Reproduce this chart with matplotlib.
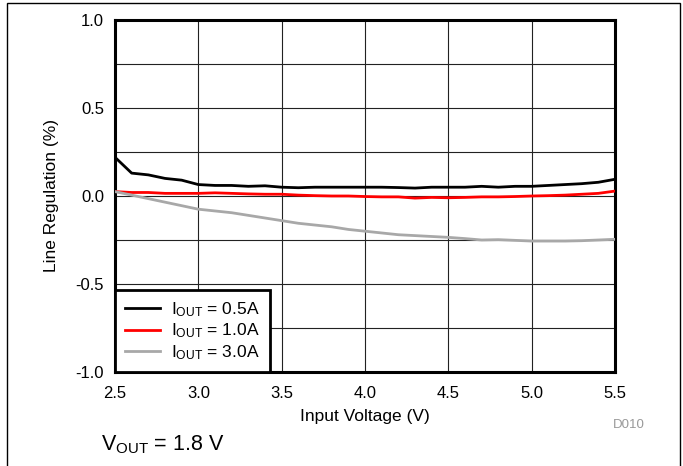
import matplotlib
matplotlib.use("Agg")
import matplotlib.pyplot as plt
from matplotlib.patches import Rectangle

plt.rcParams['font.family'] = ['Liberation Sans', 'DejaVu Sans']
plt.rcParams['mathtext.fontset'] = 'custom'
plt.rcParams['mathtext.rm'] = 'Liberation Sans'
plt.rcParams['mathtext.it'] = 'Liberation Sans'

vin = [2.5, 2.6, 2.7, 2.8, 2.9, 3.0, 3.1, 3.2, 3.3, 3.4, 3.5, 3.6, 3.7, 3.8, 3.9, 4.0,
       4.1, 4.2, 4.3, 4.4, 4.5, 4.6, 4.7, 4.8, 4.9, 5.0, 5.1, 5.2, 5.3, 5.4, 5.5]
reg_05a = [0.22, 0.13, 0.12, 0.10, 0.09, 0.065, 0.06, 0.06, 0.055, 0.058, 0.05, 0.047,
           0.05, 0.05, 0.05, 0.05, 0.05, 0.048, 0.045, 0.05, 0.05, 0.05, 0.055, 0.05,
           0.055, 0.055, 0.06, 0.065, 0.07, 0.078, 0.095]
reg_10a = [0.025, 0.02, 0.02, 0.015, 0.015, 0.015, 0.018, 0.015, 0.012, 0.01, 0.01, 0.005,
           0.002, 0.0, 0.0, -0.003, -0.005, -0.005, -0.012, -0.008, -0.01, -0.008, -0.005,
           -0.005, -0.003, 0.0, 0.002, 0.005, 0.01, 0.015, 0.028]
reg_30a = [0.025, 0.005, -0.015, -0.035, -0.055, -0.075, -0.085, -0.095, -0.11, -0.125,
           -0.14, -0.155, -0.165, -0.175, -0.19, -0.20, -0.21, -0.22, -0.225, -0.23,
           -0.235, -0.242, -0.25, -0.248, -0.252, -0.256, -0.256, -0.256, -0.254, -0.25,
           -0.246]
labels = [r'I$_{\mathrm{OUT}}$ = 0.5A', r'I$_{\mathrm{OUT}}$ = 1.0A', r'I$_{\mathrm{OUT}}$ = 3.0A']
colors = ['#000000', '#ff0000', '#a8a8a8']
xticks = [2.5, 3.0, 3.5, 4.0, 4.5, 5.0, 5.5]
yticks = [-1.0, -0.5, 0.0, 0.5, 1.0]
ygrid = [-0.75, -0.25, 0.25, 0.75]

fig = plt.figure(figsize=(6.83, 4.66), dpi=100)
ax = fig.add_axes([115/683, 94/466, 500/683, 352/466])

for y, c, lab in zip([reg_05a, reg_10a, reg_30a], colors, labels):
    ax.plot(vin, y, color=c, lw=2.0, label=lab, zorder=3)

ax.set_xlim(2.5, 5.5)
ax.set_ylim(-1.0, 1.0)
ax.set_xticks(xticks)
ax.set_xticklabels([f"{v:.1f}" for v in xticks])
ax.set_yticks(yticks)
ax.set_yticklabels([f"{v:.1f}" for v in yticks])
ax.set_yticks(ygrid, minor=True)
ax.tick_params(which='both', length=0, labelsize=12, pad=8)
ax.tick_params(axis='x', pad=10)
ax.grid(True, which='both', color='#222222', lw=0.8)
ax.set_axisbelow(True)
for s in ax.spines.values():
    s.set_linewidth(2.2)

ax.set_xlabel('Input Voltage (V)', fontsize=12.5, labelpad=6)
ax.set_ylabel('Line Regulation (%)', fontsize=12.5, labelpad=12)

leg = ax.legend(loc='lower left', fontsize=12.5, frameon=True, fancybox=False,
                borderaxespad=0, handlelength=2.0, labelspacing=0.15,
                borderpad=0.6, handletextpad=0.6)
leg.get_frame().set_edgecolor('black')
leg.get_frame().set_linewidth(2.0)
leg.get_frame().set_alpha(1)

fig.text(629/683, 1 - 425/466, 'D010', fontsize=9.5, color='#999999', ha='center', va='center')
fig.text(101/683, 1 - 445/466, r'V$_{\mathrm{OUT}}$ = 1.8 V', fontsize=15.5, ha='left', va='center')

fig.patches.append(Rectangle((7/683, -0.01), 673/683, 1 - 3/466 + 0.01,
                             transform=fig.transFigure, fill=False, ec='black', lw=1.0))

fig.savefig('out.png', dpi=100)
